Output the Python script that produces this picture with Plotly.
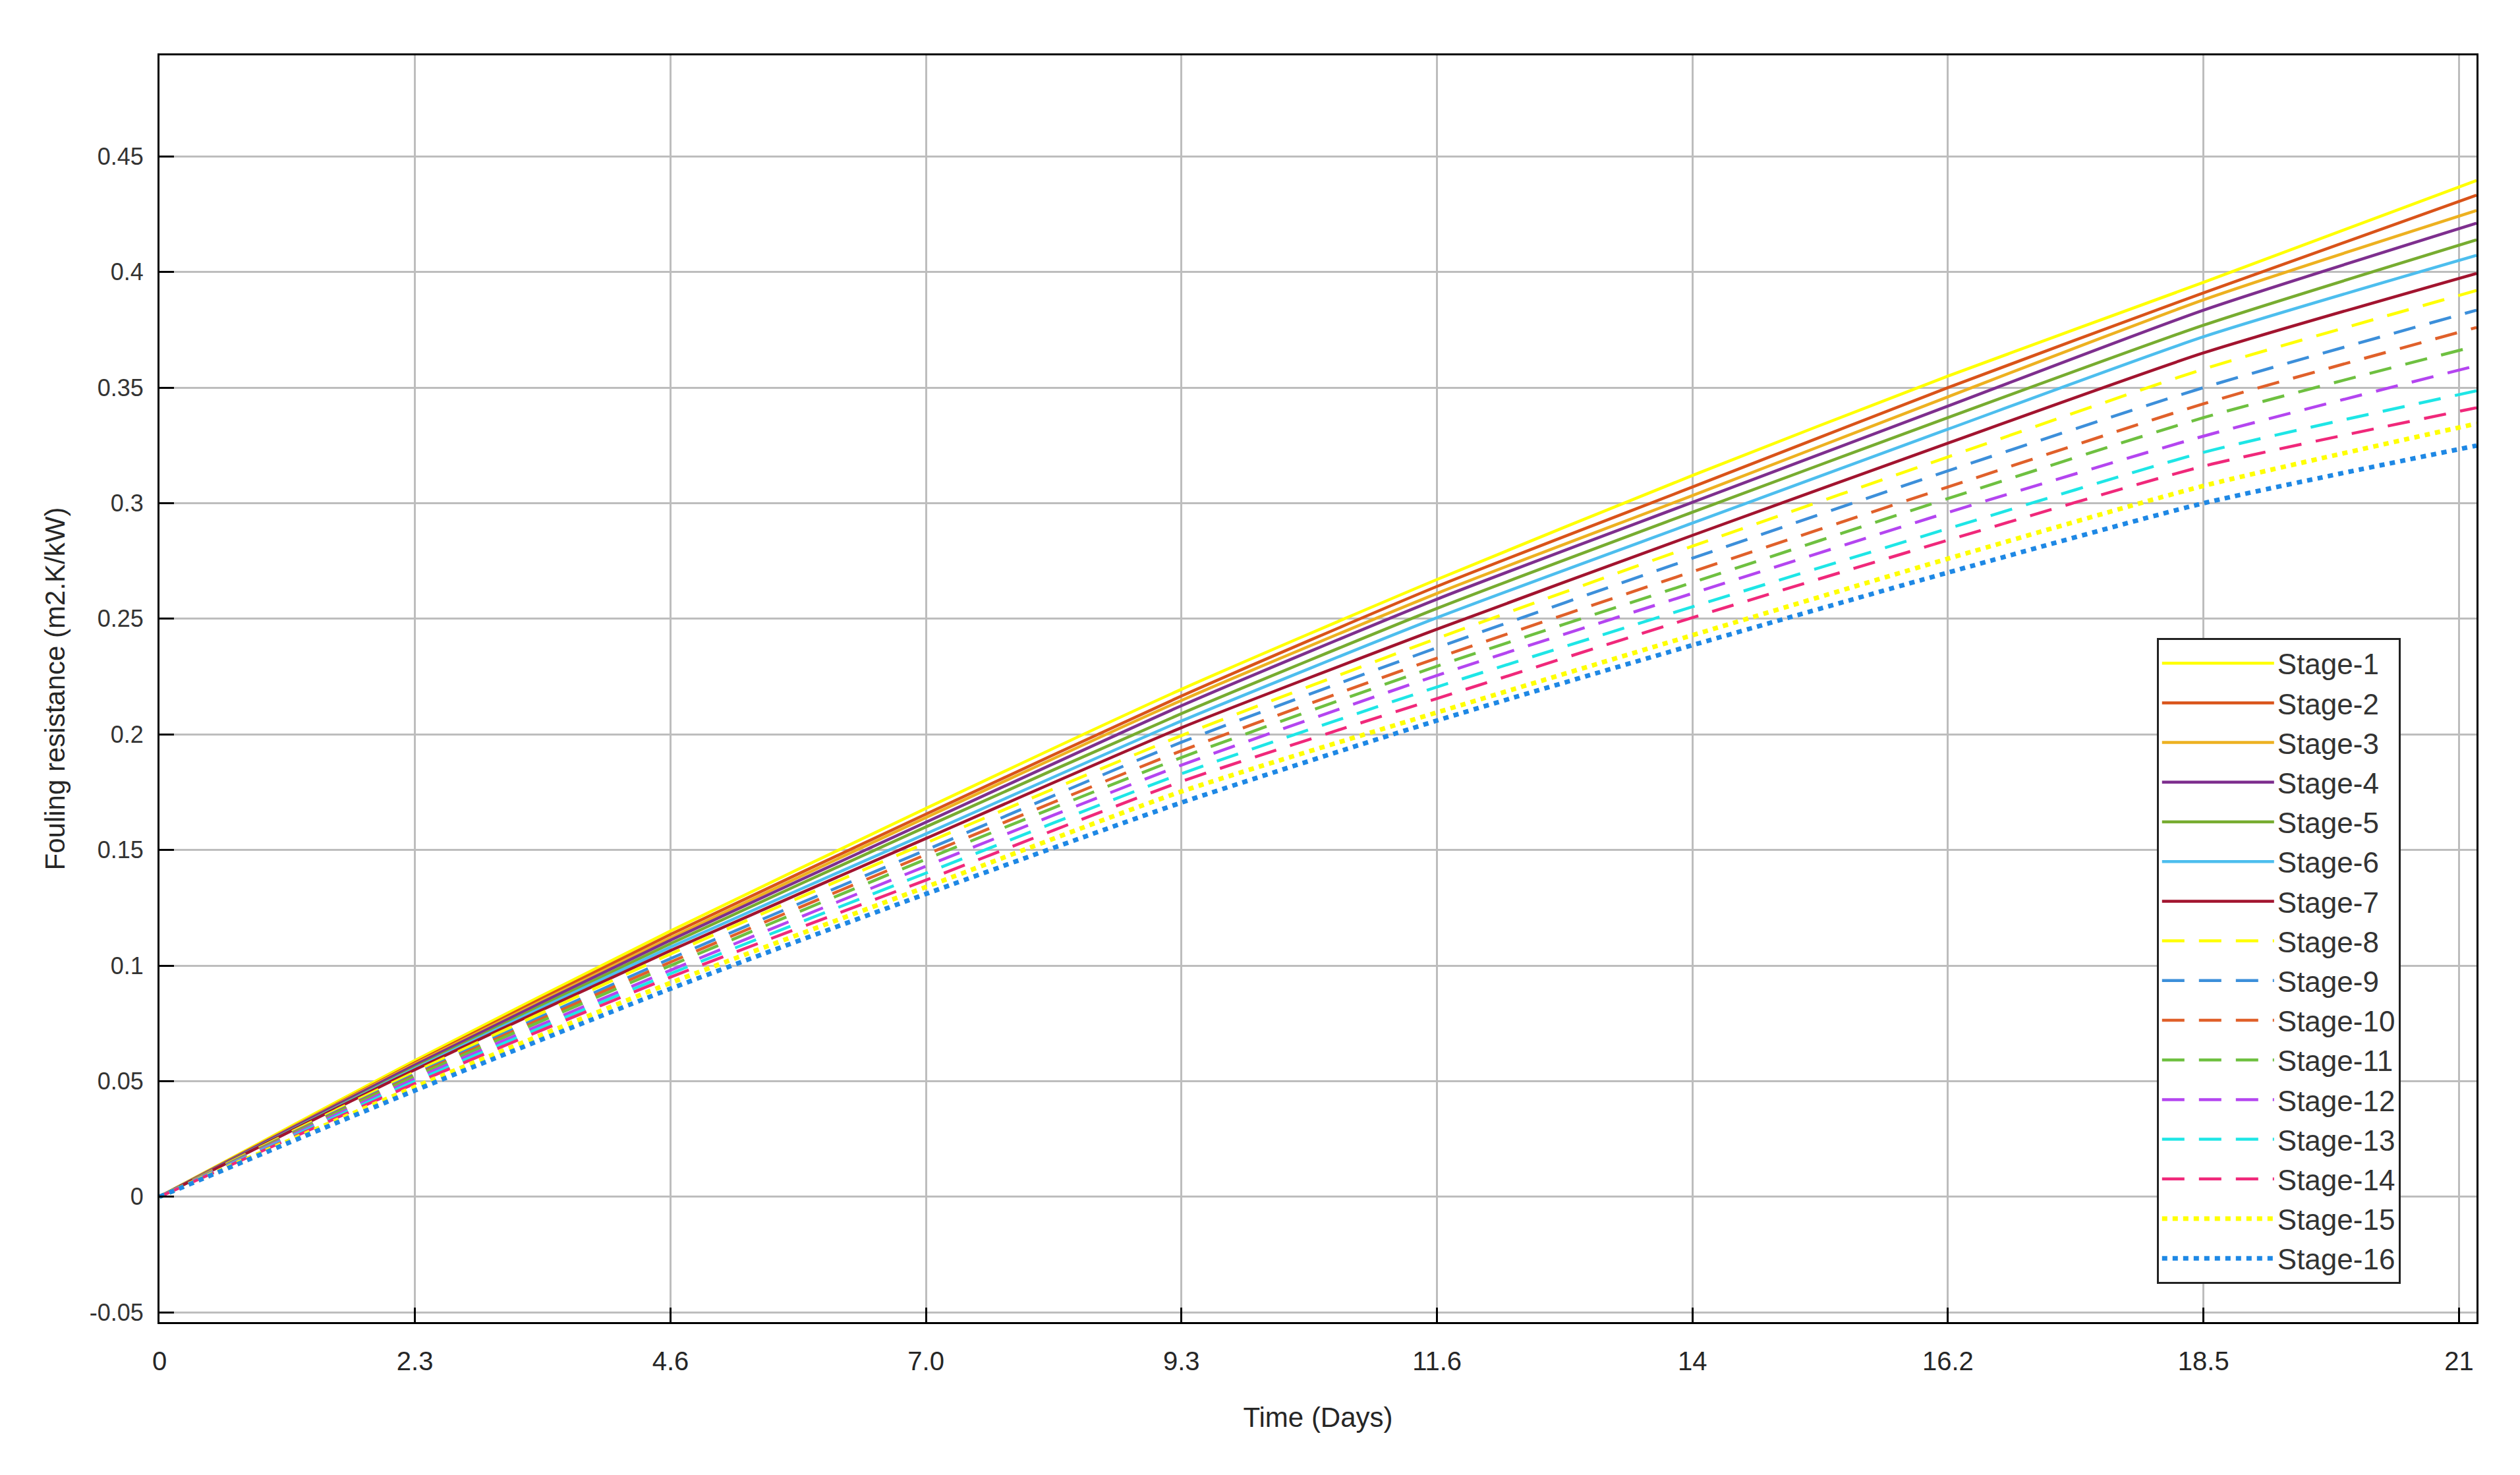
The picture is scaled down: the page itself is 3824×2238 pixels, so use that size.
import plotly.graph_objects as go

# Time (days) at which values were read
time_days = [0, 2.333, 4.667, 7.0, 9.333, 11.667, 14.0, 16.333, 18.667, 21.16]

stage_1 = [0, 0.059, 0.115, 0.168, 0.2195, 0.267, 0.312, 0.355, 0.3955, 0.4396]
stage_2 = [0, 0.058, 0.1135, 0.1655, 0.2166, 0.264, 0.307, 0.350, 0.391, 0.4332]
stage_3 = [0, 0.0575, 0.112, 0.164, 0.2147, 0.261, 0.3033, 0.346, 0.388, 0.4266]
stage_4 = [0, 0.057, 0.111, 0.162, 0.2124, 0.2585, 0.3004, 0.342, 0.3835, 0.4211]
stage_5 = [0, 0.056, 0.1095, 0.160, 0.209, 0.2545, 0.2961, 0.337, 0.377, 0.4139]
stage_6 = [0, 0.0555, 0.108, 0.157, 0.2058, 0.2505, 0.2914, 0.332, 0.372, 0.4072]
stage_7 = [0, 0.055, 0.1065, 0.155, 0.2029, 0.2455, 0.2861, 0.326, 0.365, 0.3994]
stage_8 = [0, 0.054, 0.105, 0.153, 0.1995, 0.2415, 0.2814, 0.320, 0.358, 0.392]
stage_9 = [0, 0.053, 0.103, 0.150, 0.1966, 0.2375, 0.2762, 0.314, 0.350, 0.3835]
stage_10 = [0, 0.0525, 0.1015, 0.148, 0.1929, 0.233, 0.2704, 0.307, 0.343, 0.376]
stage_11 = [0, 0.052, 0.100, 0.146, 0.190, 0.2295, 0.2657, 0.302, 0.337, 0.368]
stage_12 = [0, 0.051, 0.098, 0.143, 0.1867, 0.2255, 0.261, 0.296, 0.329, 0.3595]
stage_13 = [0, 0.050, 0.0965, 0.140, 0.183, 0.2205, 0.2552, 0.289, 0.322, 0.3486]
stage_14 = [0, 0.049, 0.095, 0.137, 0.1796, 0.2155, 0.2505, 0.284, 0.316, 0.3413]
stage_15 = [0, 0.0475, 0.0925, 0.134, 0.1753, 0.2095, 0.2429, 0.276, 0.3075, 0.3344]
stage_16 = [0, 0.046, 0.090, 0.131, 0.1705, 0.206, 0.2386, 0.270, 0.300, 0.3249]

stage_names = [f"Stage-{i}" for i in range(1, 17)]
stage_values = [stage_1, stage_2, stage_3, stage_4, stage_5, stage_6, stage_7, stage_8,
                stage_9, stage_10, stage_11, stage_12, stage_13, stage_14, stage_15, stage_16]

x_tick_vals = [0, 2.333, 4.667, 7.0, 9.333, 11.667, 14.0, 16.333, 18.667, 21.0]
x_tick_text = ["0", "2.3", "4.6", "7.0", "9.3", "11.6", "14", "16.2", "18.5", "21"]
y_tick_vals = [-0.05, 0, 0.05, 0.1, 0.15, 0.2, 0.25, 0.3, 0.35, 0.4, 0.45]
y_tick_text = ["-0.05", "0", "0.05", "0.1", "0.15", "0.2", "0.25", "0.3", "0.35", "0.4", "0.45"]

colors = ["#FFFF00", "#D95319", "#EDB120", "#7E2F8E", "#77AC30", "#4DBEEE", "#A2142F",
          "#FFFF00", "#3C8FDA", "#E0602A", "#6EC040", "#B445F0", "#1EE6E6", "#F0287A",
          "#FFFF00", "#1E88E5"]
dashes = ["solid"] * 7 + ["34px,22px"] * 7 + ["8px,8px"] * 2
widths = [4.5] * 7 + [4.5] * 7 + [7] * 2

fig = go.Figure()
for name, vals, c, d, w in zip(stage_names, stage_values, colors, dashes, widths):
    fig.add_trace(go.Scatter(x=time_days, y=vals, mode="lines", name=name,
                             line=dict(color=c, dash=d, width=w, shape="spline", smoothing=0.6)))

axis_common = dict(showline=True, linecolor="black", linewidth=3, mirror=True,
                   showgrid=True, gridcolor="#BDBDBD", gridwidth=2.5,
                   ticks="inside", ticklen=22, tickwidth=3, tickcolor="black",
                   zeroline=False)

fig.update_layout(
    width=3824, height=2238,
    paper_bgcolor="white", plot_bgcolor="white",
    margin=dict(l=234, r=74, t=76, b=240),
    font=dict(family="Liberation Sans, Arial, sans-serif", color="#262626"),
    xaxis=dict(range=[0, 21.16], tickvals=x_tick_vals, ticktext=x_tick_text,
               tickfont=dict(size=40, family="Liberation Sans Narrow, Liberation Sans, Arial", color="#262626"),
               ticklabelstandoff=22,
               title=dict(text="Time (Days)", font=dict(size=42, family="Liberation Sans Narrow, Liberation Sans, Arial", color="#262626"), standoff=50),
               **axis_common),
    yaxis=dict(range=[-0.0542, 0.4937], tickvals=y_tick_vals, ticktext=y_tick_text,
               tickfont=dict(size=36, color="#333333"),
               ticklabelstandoff=14,
               title=dict(text="Fouling resistance (m2.K/kW)", font=dict(size=42, color="#262626"), standoff=25),
               **axis_common),
    legend=dict(x=0.862, y=0.54, xanchor="left", yanchor="top",
                bgcolor="white", bordercolor="#222222", borderwidth=3,
                font=dict(size=44, color="#333333"), itemwidth=170,
                tracegroupgap=0),
    showlegend=True,
)

fig.write_html("out.html")
